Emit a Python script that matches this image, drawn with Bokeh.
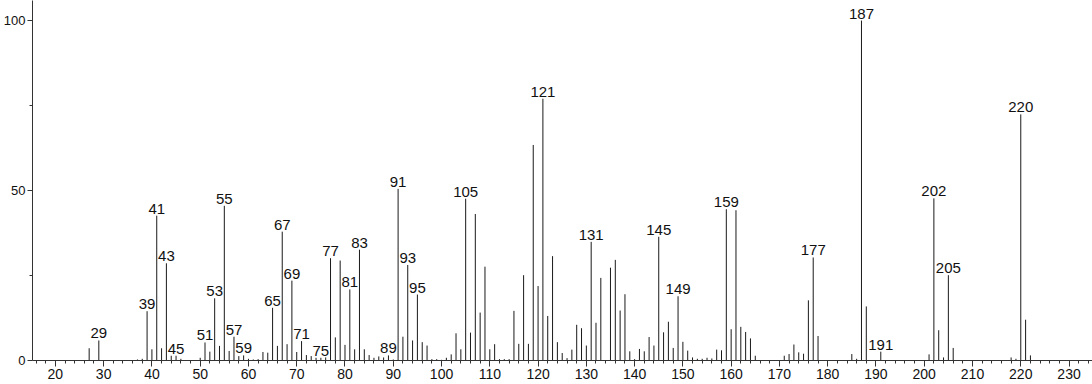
from bokeh.plotting import figure
from bokeh.models import FixedTicker, Range1d, ColumnDataSource
from bokeh.core.properties import value
from bokeh.embed import file_html
from bokeh.resources import INLINE

mz = [27, 29, 37, 38, 39, 40, 41, 42, 43, 44, 45, 46, 50, 51, 52, 53, 54, 55, 56, 57,
      58, 59, 60, 61, 62, 63, 64, 65, 66, 67, 68, 69, 70, 71, 72, 73, 74, 75, 76, 77,
      78, 79, 80, 81, 82, 83, 84, 85, 86, 87, 88, 89, 90, 91, 92, 93, 94, 95, 96, 97,
      98, 99, 100, 101, 102, 103, 104, 105, 106, 107, 108, 109, 110, 111, 112, 113, 114, 115, 116, 117,
      118, 119, 120, 121, 122, 123, 124, 125, 126, 127, 128, 129, 130, 131, 132, 133, 135, 136, 137, 138,
      139, 140, 141, 142, 143, 144, 145, 146, 147, 148, 149, 150, 151, 152, 153, 154, 155, 156, 157, 158,
      159, 160, 161, 162, 163, 164, 165, 171, 172, 173, 174, 175, 176, 177, 178, 185, 186, 187, 188, 191,
      201, 202, 203, 204, 205, 206, 218, 219, 220, 221, 222]
intensity = [3.6, 5.9, 0.3, 0.5, 14.5, 3.3, 42.6, 3.6, 28.6, 1.4, 1.4, 0.5, 0.8, 5.3, 2.6, 18.3, 4.3, 45.5, 2.8, 7.0,
             1.3, 1.5, 0.5, 0.3, 0.4, 2.5, 2.3, 15.5, 4.3, 37.9, 4.8, 23.5, 2.5, 5.7, 1.6, 1.3, 0.8, 0.8, 0.9, 30.1,
             6.8, 29.4, 4.6, 20.9, 3.3, 32.6, 3.3, 1.6, 0.8, 1.2, 0.9, 1.5, 0.3, 50.5, 7.0, 28.1, 5.9, 19.4, 5.4, 4.4,
             0.4, 0.4, 0.2, 0.8, 1.8, 8.0, 3.3, 47.6, 8.2, 43.1, 14.1, 27.6, 3.3, 4.8, 0.4, 0.4, 0.4, 14.6, 4.9, 25.1,
             4.9, 63.4, 21.9, 77.0, 13.1, 30.7, 5.4, 2.2, 0.7, 3.2, 10.5, 9.5, 4.4, 34.9, 11.1, 24.3, 27.3, 29.6, 14.7, 19.5,
             2.7, 0.4, 3.4, 2.7, 6.9, 4.4, 36.4, 8.3, 11.4, 3.7, 18.9, 5.5, 2.9, 0.9, 0.5, 0.5, 0.8, 0.6, 3.2, 3.0,
             44.5, 9.2, 44.2, 9.9, 8.4, 6.5, 1.4, 1.4, 1.9, 4.7, 2.4, 2.0, 17.7, 30.3, 7.2, 1.9, 0.5, 100.0, 15.9, 2.6,
             1.8, 47.7, 8.9, 0.9, 25.1, 3.7, 0.9, 0.5, 72.4, 12.0, 1.5]

labeled_mz = [29, 39, 41, 43, 45, 51, 53, 55, 57, 59, 65, 67, 69, 71, 75, 77, 81, 83, 89, 91,
              93, 95, 105, 121, 131, 145, 149, 159, 177, 187, 191, 202, 205, 220]

x_major = list(range(20, 231, 10))
x_minor = list(range(16, 235, 2))
y_major = [0, 50, 100]
y_minor = [25, 75]

lookup = dict(zip(mz, intensity))
lab_y = [lookup[m] for m in labeled_mz]
lab_t = [str(m) for m in labeled_mz]

p = figure(width=1092, height=384, output_backend="svg", toolbar_location=None,
           x_range=Range1d(15.26, 234.86), y_range=Range1d(0, 105.9),
           min_border_left=30, min_border_bottom=24, min_border_top=0, min_border_right=0)
p.outline_line_color = None
p.xgrid.visible = False
p.ygrid.visible = False
p.background_fill_color = "white"
p.border_fill_color = "white"

src = ColumnDataSource(dict(x=mz, y0=[0] * len(mz), y1=intensity))
p.segment(x0="x", y0="y0", x1="x", y1="y1", source=src, line_color="#1a1a1a", line_width=1)

lsrc = ColumnDataSource(dict(x=labeled_mz, y=lab_y, t=lab_t))
p.text(x="x", y="y", text="t", source=lsrc, text_align="center", text_baseline="bottom",
       y_offset=-2, text_font=value("Liberation Sans"), text_font_size="15px", text_color="#111111")

for ax in (p.xaxis[0], p.yaxis[0]):
    ax.axis_line_color = "#333333"
    ax.major_tick_line_color = "#333333"
    ax.minor_tick_line_color = "#333333"
    ax.major_tick_in = 0
    ax.minor_tick_in = 0
    ax.major_label_text_font = "Liberation Sans"
    ax.major_label_text_color = "#111111"

p.xaxis[0].ticker = FixedTicker(ticks=x_major, minor_ticks=x_minor)
p.xaxis[0].major_tick_out = 6
p.xaxis[0].minor_tick_out = 3
p.xaxis[0].major_label_text_font_size = "14px"
p.xaxis[0].major_label_standoff = 2

p.yaxis[0].ticker = FixedTicker(ticks=y_major, minor_ticks=y_minor)
p.yaxis[0].major_tick_out = 5
p.yaxis[0].minor_tick_out = 3
p.yaxis[0].major_label_text_font_size = "13px"
p.yaxis[0].major_label_standoff = 2

open("out.html", "w").write(file_html(p, INLINE))
